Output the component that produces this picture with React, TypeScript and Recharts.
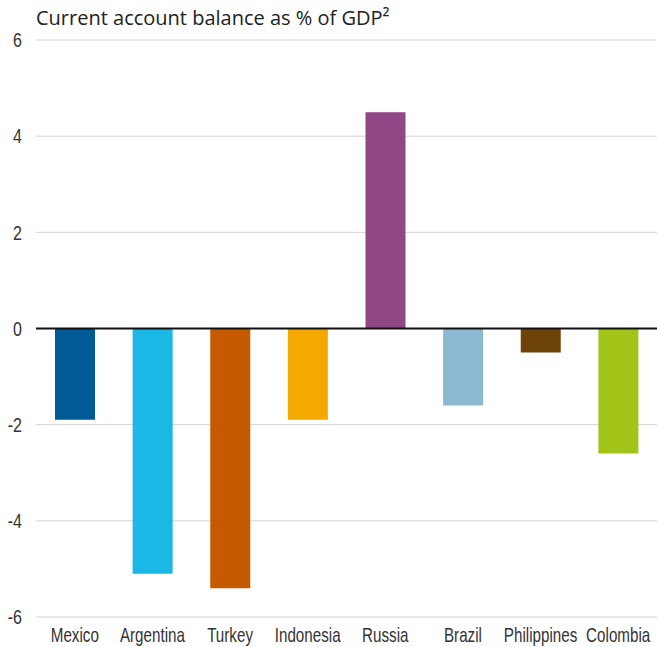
import React from 'react'
import { BarChart, Bar, XAxis, YAxis, CartesianGrid, ReferenceLine, Cell } from 'recharts'

const countries = ['Mexico', 'Argentina', 'Turkey', 'Indonesia', 'Russia', 'Brazil', 'Philippines', 'Colombia']
const balance = [-1.9, -5.1, -5.4, -1.9, 4.5, -1.6, -0.5, -2.6]
const barColors = ['#005a96', '#1bb7e5', '#c55a00', '#f5a800', '#904785', '#8bb9d1', '#6e4309', '#a2c317']
const yTicks = [-6, -4, -2, 0, 2, 4, 6]

const data = countries.map((country, i) => ({ country, value: balance[i] }))

const tickFont = '"Liberation Sans", Arial, sans-serif'

// condensed look: squeeze the regular sans horizontally
const XTick = ({ x, y, payload }: any) => (
  <g transform={`translate(${x},${y})`}>
    <text textAnchor="middle" dy={19} fill="#333" fontSize={20} fontFamily={tickFont} transform="scale(0.76,1)">
      {payload.value}
    </text>
  </g>
)

const YTick = ({ x, y, payload }: any) => (
  <g transform={`translate(${x},${y})`}>
    <text textAnchor="end" dy="0.36em" fill="#333" fontSize={20} fontFamily={tickFont} transform="scale(0.8,1)">
      {payload.value}
    </text>
  </g>
)

const App: React.FC = () => {
  return (
    <div style={{ position: 'absolute', left: 0, top: 0, width: 657, height: 647, background: '#fff', overflow: 'hidden' }}>
      <div
        style={{
          position: 'absolute',
          left: 36,
          top: 4,
          fontFamily: '"Open Sans", sans-serif',
          fontSize: 20,
          color: '#222',
          whiteSpace: 'nowrap',
        }}
      >
        Current account balance as % of GDP²
      </div>
      <BarChart
        width={657}
        height={647}
        data={data}
        margin={{ top: 40, right: 0, bottom: 0, left: 0 }}
      >
        <CartesianGrid vertical={false} stroke="#d4d4d4" strokeWidth={1} />
        <XAxis
          dataKey="country"
          axisLine={false}
          tickLine={false}
          interval={0}
          tickMargin={0}
          height={30}
          tick={<XTick />}
        />
        <YAxis
          domain={[-6, 6]}
          ticks={yTicks}
          axisLine={false}
          tickLine={false}
          width={36}
          tickMargin={8}
          tick={<YTick />}
        />
        <ReferenceLine y={0} stroke="#111" strokeWidth={2} />
        <Bar dataKey="value" barSize={40} isAnimationActive={false}>
          {data.map((d, i) => (
            <Cell key={d.country} fill={barColors[i]} />
          ))}
        </Bar>
      </BarChart>
    </div>
  )
}

export default App
